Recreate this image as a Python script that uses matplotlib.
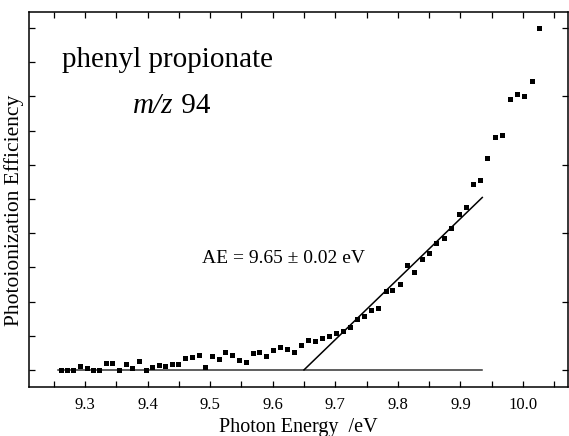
import matplotlib
matplotlib.use("Agg")
import matplotlib.pyplot as plt
from matplotlib.ticker import MultipleLocator, NullFormatter
import numpy as np

plt.rcParams['font.family'] = ['Liberation Serif', 'DejaVu Serif']

# photon energy (eV) and relative photoionization efficiency, m/z 94
energy = [9.2617, 9.2708, 9.2813, 9.2920, 9.3027, 9.3133, 9.3228, 9.3335, 9.3436, 9.3543,
          9.3655, 9.3756, 9.3863, 9.3970, 9.4070, 9.4177, 9.4283, 9.4390, 9.4494, 9.4602,
          9.4709, 9.4816, 9.4922, 9.5024, 9.5141, 9.5241, 9.5348, 9.5460, 9.5567, 9.5679,
          9.5784, 9.5896, 9.6008, 9.6120, 9.6232, 9.6339, 9.6450, 9.6567, 9.6674, 9.6791,
          9.6903, 9.7010, 9.7121, 9.7233, 9.7345, 9.7457, 9.7569, 9.7681, 9.7804, 9.7909,
          9.8027, 9.8144, 9.8264, 9.8383, 9.8500, 9.8618, 9.8735, 9.8851, 9.8970, 9.9086,
          9.9203, 9.9318, 9.9433, 9.9550, 9.9666, 9.9789, 9.9906, 10.0024, 10.0145, 10.0264]
efficiency = [0.00, 0.00, 0.00, 0.12, 0.07, 0.00, 0.00, 0.21, 0.21, 0.00,
              0.17, 0.07, 0.27, 0.00, 0.09, 0.15, 0.12, 0.17, 0.17, 0.35,
              0.37, 0.43, 0.08, 0.41, 0.31, 0.51, 0.44, 0.29, 0.23, 0.48,
              0.52, 0.42, 0.58, 0.68, 0.61, 0.53, 0.73, 0.88, 0.86, 0.94,
              0.99, 1.07, 1.14, 1.26, 1.49, 1.58, 1.75, 1.81, 2.31, 2.34,
              2.51, 3.07, 2.85, 3.23, 3.41, 3.72, 3.86, 4.16, 4.57, 4.78,
              5.43, 5.56, 6.21, 6.82, 6.87, 7.92, 8.07, 8.02, 8.44, 9.99]

# background and linear onset fit
baseline_x = [9.257, 9.935]
baseline_y = [0.0, 0.0]
onset_ae = 9.65
onset_slope = 17.7
onset_x = [onset_ae, 9.935]
onset_y = [onset_slope * (e - onset_ae) for e in onset_x]

fig = plt.figure(figsize=(5.69, 4.36), dpi=100)
ax = fig.add_axes([29 / 569, 49 / 436, 539 / 569, 375 / 436])

ax.plot(baseline_x, baseline_y, color='#333333', lw=1.1)
ax.plot(onset_x, onset_y, color='black', lw=1.1)
ax.plot(energy, efficiency, 's', color='black', ms=3.6, mew=0)

ax.set_xlim(9.2105, 10.072)
ax.set_ylim(-0.5, 10.47)

ax.xaxis.set_major_locator(MultipleLocator(0.1))
ax.xaxis.set_minor_locator(MultipleLocator(0.05))
ax.yaxis.set_major_locator(MultipleLocator(2))
ax.yaxis.set_minor_locator(MultipleLocator(1))
ax.xaxis.set_major_formatter(lambda v, p: f"{v:.1f}")
ax.yaxis.set_major_formatter(NullFormatter())

ax.tick_params(axis='x', which='both', direction='in', top=True, length=4,
               width=0.9, labelsize=12, pad=7)
ax.tick_params(axis='y', which='major', direction='in', left=True, right=True,
               length=4, width=0.9)
ax.tick_params(axis='y', which='minor', direction='in', left=True, right=False,
               length=4, width=0.9)
for s in ax.spines.values():
    s.set_linewidth(1.1)

ax.set_xlabel('Photon Energy  /eV', fontsize=14.5)
ax.xaxis.set_label_coords(0.5, -0.082)
ax.set_ylabel('Photoionization Efficiency', fontsize=15.5)
ax.yaxis.set_label_coords(-0.01, 0.47)

ax.text(9.263, 8.86, 'phenyl propionate', fontsize=21, va='baseline')
mz = ax.text(9.377, 7.51, 'm/z', fontsize=21, style='italic', va='baseline')
ax.annotate(' 94', xy=(1, 0), xycoords=mz, fontsize=21, va='bottom')
ax.text(9.487, 3.13, 'AE = 9.65 \u00b1 0.02 eV', fontsize=14, va='baseline')

fig.savefig('out.png', dpi=100)
